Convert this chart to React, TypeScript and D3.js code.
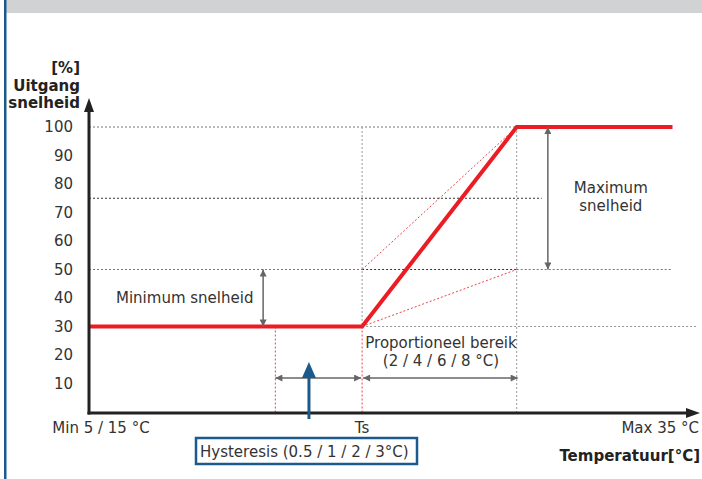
import React from "react";
import * as d3 from "d3";

// y ticks (percent)
const yTicks = [10, 20, 30, 40, 50, 60, 70, 80, 90, 100];
// control curve: [position, speed %]
const curve: [number, number][] = [
  [0, 30],
  [44.7, 30],
  [70, 100],
  [95.5, 100],
];
// key positions on the temperature axis (schematic units 0..100)
const hystStart = 30.5;
const ts = 44.7;
const propEnd = 70;
const minSpeed = 30;
const maxSpeed = 100;
const midSpeed = 50;
const refSpeed = 75;

const W = 702;
const H = 479;

const App = () => {
  const x = d3.scaleLinear().domain([0, 100]).range([89, 700]);
  const y = d3.scaleLinear().domain([0, 100]).range([412, 127]);

  const line = d3
    .line<[number, number]>()
    .x((d) => x(d[0]))
    .y((d) => y(d[1]));

  const font = "DejaVu Sans, Verdana, sans-serif";
  const txt = "#333";
  const red = "#ec1c24";
  const redDot = "#e9444b";
  const grey = "#666";
  const blue = "#1b5a8a";

  const dot = (stroke: string) => ({ stroke, strokeWidth: 1, strokeDasharray: "2,2", fill: "none" });

  return (
    <svg
      width={W}
      height={H}
      style={{ position: "absolute", left: 0, top: 0, background: "#fff" }}
      fontFamily={font}
    >
      <defs>
        <marker id="ga" viewBox="0 0 10 10" refX="10" refY="5" markerWidth="9" markerHeight="7" markerUnits="userSpaceOnUse" orient="auto-start-reverse">
          <path d="M0,0 L10,5 L0,10 Z" fill={grey} />
        </marker>
      </defs>

      {/* frame */}
      <rect x={6} y={0} width={W - 6} height={13} fill="#d1d2d4" />
      <rect x={4} y={0} width={2.5} height={H} fill={blue} />

      {/* dotted guide lines */}
      <line x1={x(0)} x2={x(propEnd)} y1={y(maxSpeed)} y2={y(maxSpeed)} {...dot("#777")} />
      <line x1={x(0)} x2={x(74.1)} y1={y(refSpeed)} y2={y(refSpeed)} {...dot("#333")} />
      <line x1={x(0)} x2={x(ts)} y1={y(midSpeed)} y2={y(midSpeed)} {...dot(redDot)} />
      <line x1={x(ts)} x2={x(propEnd)} y1={y(midSpeed)} y2={y(midSpeed)} {...dot("#333")} />
      <line x1={x(propEnd)} x2={x(95.2)} y1={y(midSpeed)} y2={y(midSpeed)} {...dot(redDot)} />
      <line x1={x(ts)} x2={x(99.5)} y1={y(minSpeed)} y2={y(minSpeed)} {...dot("#999")} />

      <line x1={x(ts)} x2={x(ts)} y1={y(maxSpeed)} y2={y(minSpeed)} {...dot("#999")} />
      <line x1={x(ts)} x2={x(ts)} y1={y(minSpeed)} y2={y(0)} {...dot(redDot)} />
      <line x1={x(propEnd)} x2={x(propEnd)} y1={y(maxSpeed)} y2={y(0)} {...dot("#999")} />
      <line x1={x(hystStart)} x2={x(hystStart)} y1={y(minSpeed)} y2={y(0)} {...dot(redDot)} />

      {/* thin red diagonals */}
      <line x1={x(ts)} y1={y(minSpeed)} x2={x(propEnd)} y2={y(midSpeed)} {...dot(redDot)} />
      <line x1={x(ts)} y1={y(midSpeed)} x2={x(propEnd)} y2={y(maxSpeed)} {...dot(redDot)} />

      {/* main curve */}
      <path d={line(curve) ?? ""} fill="none" stroke={red} strokeWidth={4} />

      {/* dimension arrows */}
      <line x1={x(28.5)} x2={x(28.5)} y1={y(midSpeed)} y2={y(minSpeed)} stroke={grey} strokeWidth={1.5} markerStart="url(#ga)" markerEnd="url(#ga)" />
      <line x1={x(75.1)} x2={x(75.1)} y1={y(maxSpeed)} y2={y(midSpeed)} stroke={grey} strokeWidth={1.5} markerStart="url(#ga)" markerEnd="url(#ga)" />
      <line x1={x(hystStart)} x2={x(ts) - 1} y1={378} y2={378} stroke={grey} strokeWidth={1.5} markerStart="url(#ga)" markerEnd="url(#ga)" />
      <line x1={x(ts) + 1} x2={x(propEnd) + 1} y1={378} y2={378} stroke={grey} strokeWidth={1.5} markerStart="url(#ga)" markerEnd="url(#ga)" />

      {/* axes */}
      <line x1={x(0)} x2={x(0)} y1={y(0) + 2.5} y2={108} stroke="#222" strokeWidth={3} />
      <path d={`M${x(0) - 5},${112} L${x(0)},${98} L${x(0) + 5},${112} Z`} fill="#222" />
      <line x1={x(0) - 1.5} x2={688} y1={y(0) + 1} y2={y(0) + 1} stroke="#222" strokeWidth={3} />
      <path d={`M${686},${y(0) - 4} L${700},${y(0) + 1} L${686},${y(0) + 6} Z`} fill="#222" />

      {/* blue hysteresis pointer */}
      <line x1={x(36)} x2={x(36)} y1={419} y2={375} stroke={blue} strokeWidth={3} />
      <path d={`M${x(36) - 7},${378} L${x(36)},${362} L${x(36) + 7},${378} Z`} fill={blue} />

      {/* y tick labels */}
      {yTicks.map((t) => (
        <text key={t} x={73} y={y(t)} dy="0.36em" textAnchor="end" fontSize={15} fill={txt}>
          {t}
        </text>
      ))}

      {/* y title */}
      <g fontWeight="bold" fontSize={15} fill="#222" textAnchor="end">
        <text x={80} y={73}>[%]</text>
        <text x={80} y={91}>Uitgang</text>
        <text x={80} y={108}>snelheid</text>
      </g>

      {/* annotations */}
      <g fontSize={15} fill={txt}>
        <text x={116} y={303}>Minimum snelheid</text>
        <text x={x(85.4)} y={193} textAnchor="middle">Maximum</text>
        <text x={x(85.4)} y={211} textAnchor="middle">snelheid</text>
        <text x={441} y={348} textAnchor="middle">Proportioneel bereik</text>
        <text x={441} y={366} textAnchor="middle">(2 / 4 / 6 / 8 °C)</text>
        <text x={101} y={433} textAnchor="middle">Min 5 / 15 °C</text>
        <text x={x(ts)} y={433} textAnchor="middle">Ts</text>
        <text x={699} y={433} textAnchor="end">Max 35 °C</text>
      </g>

      <rect x={196} y={438} width={221} height={26} fill="#fff" stroke={blue} strokeWidth={2.5} />
      <text x={200} y={457} fontSize={15} fill={txt}>Hysteresis (0.5 / 1 / 2 / 3°C)</text>

      <text x={700} y={461} textAnchor="end" fontWeight="bold" fontSize={15} fill="#222">
        Temperatuur[°C]
      </text>
    </svg>
  );
};

export default App;
